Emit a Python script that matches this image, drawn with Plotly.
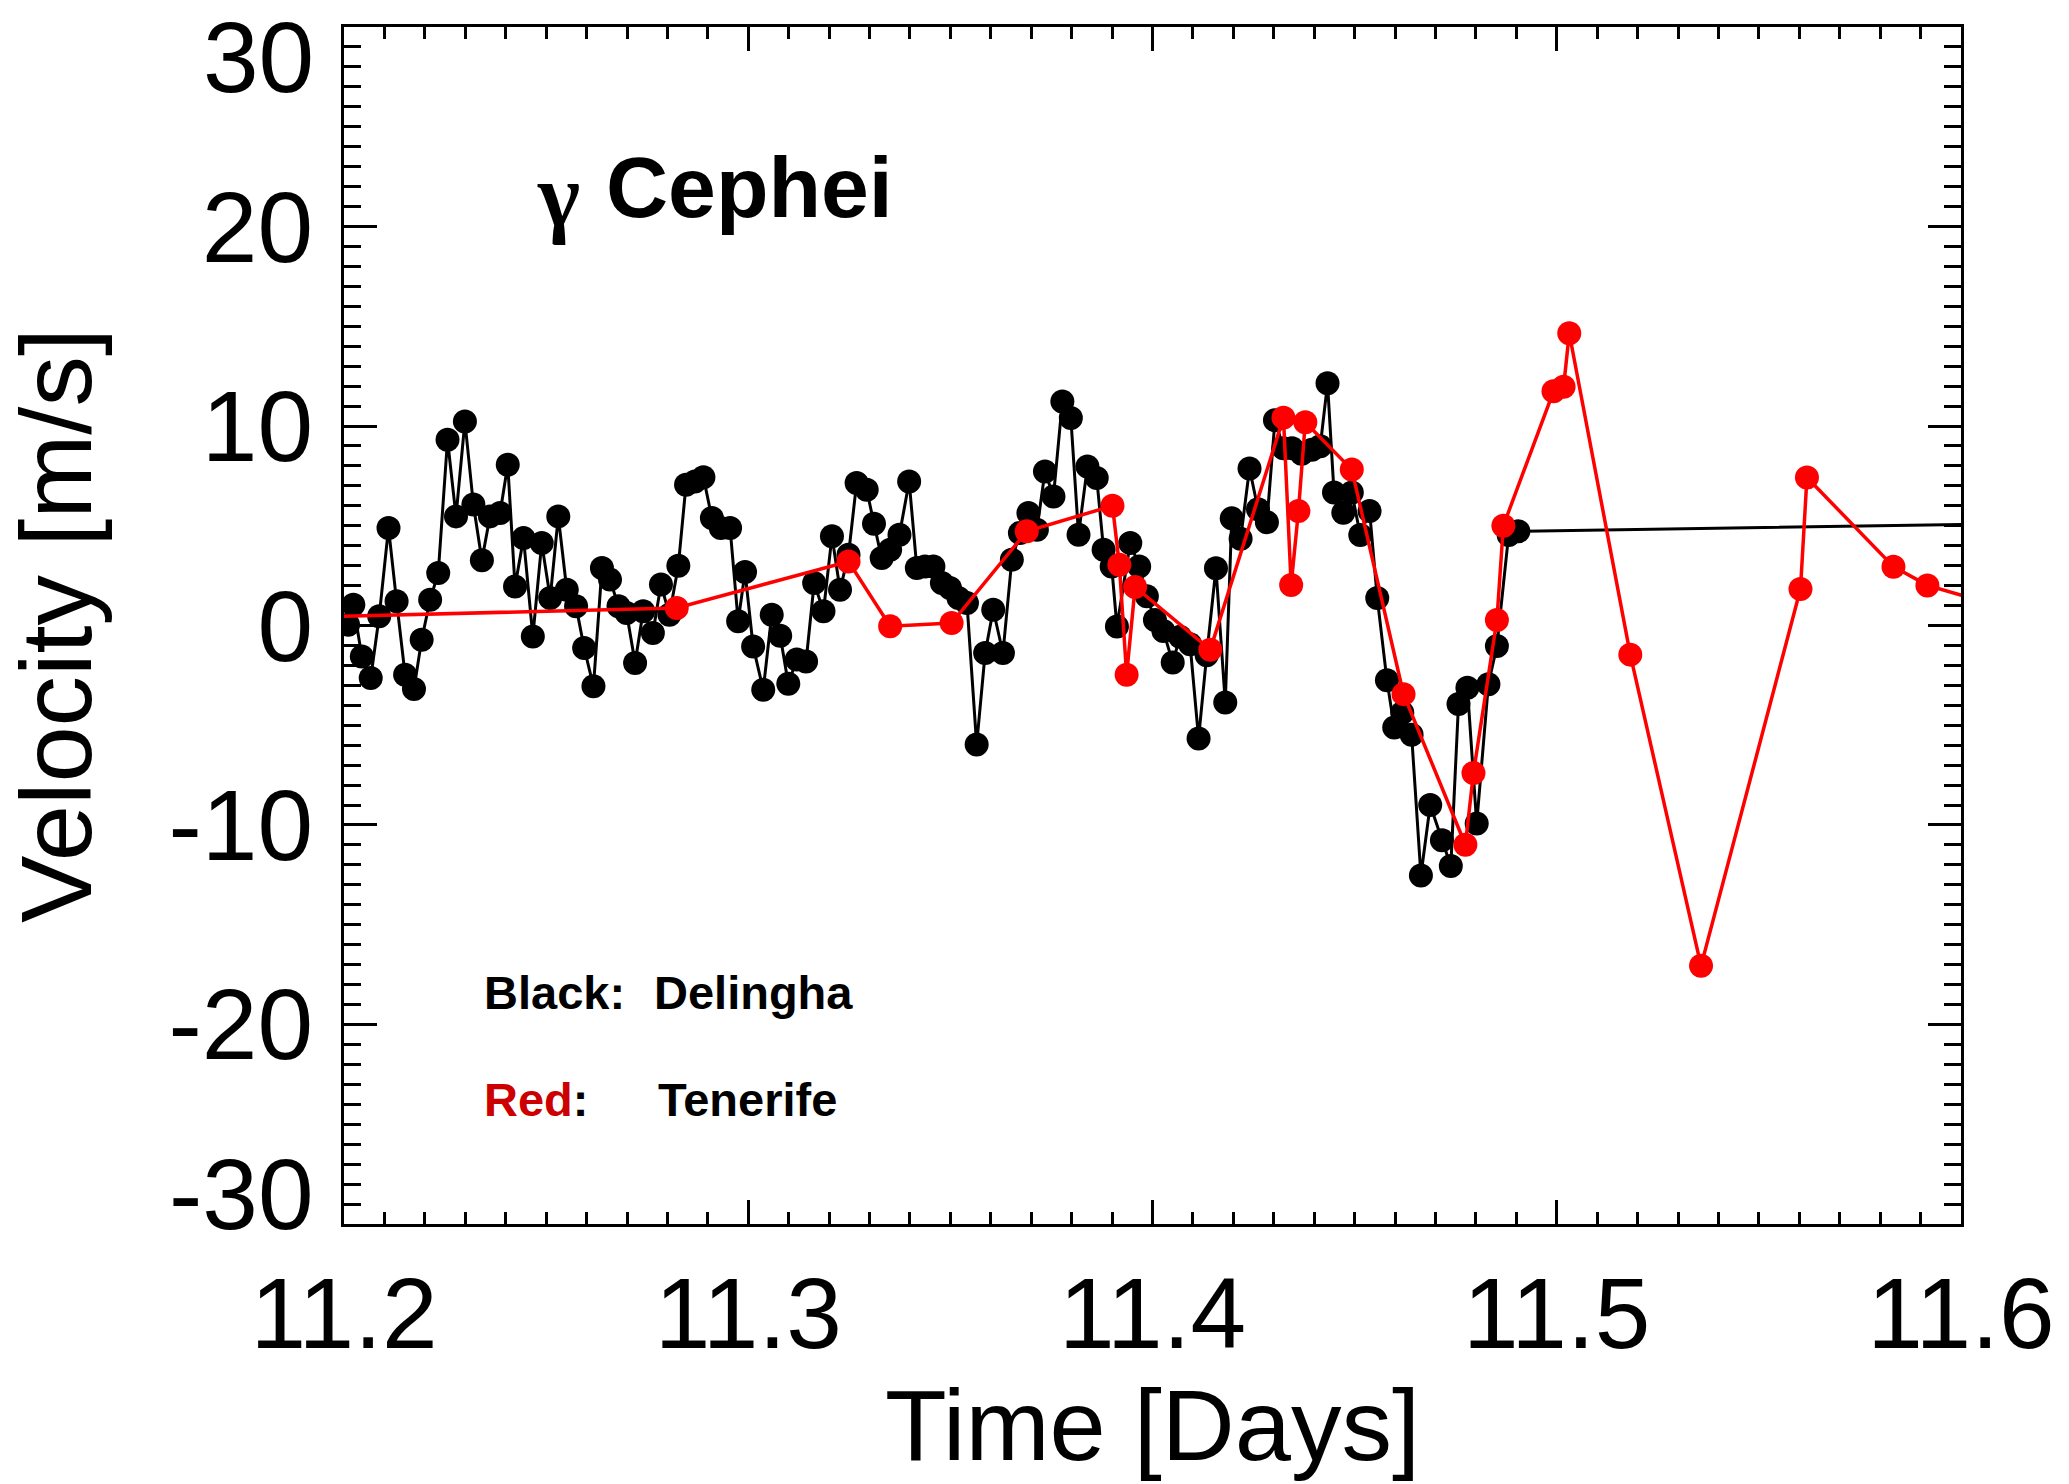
import plotly.graph_objects as go

# ---------------- data ----------------
delingha_t = [
    11.2010, 11.2023, 11.2044, 11.2066, 11.2087, 11.2110, 11.2130, 11.2151, 11.2173, 11.2192,
    11.2213, 11.2233, 11.2256, 11.2277, 11.2299, 11.2320, 11.2341, 11.2361, 11.2386, 11.2405,
    11.2423, 11.2444, 11.2467, 11.2489, 11.2510, 11.2530, 11.2551, 11.2574, 11.2594, 11.2617,
    11.2638, 11.2658, 11.2679, 11.2699, 11.2720, 11.2740, 11.2764, 11.2784, 11.2805, 11.2827,
    11.2846, 11.2868, 11.2889, 11.2910, 11.2932, 11.2955, 11.2975, 11.2992, 11.3012, 11.3037,
    11.3058, 11.3079, 11.3099, 11.3120, 11.3143, 11.3163, 11.3186, 11.3207, 11.3227, 11.3248,
    11.3268, 11.3293, 11.3311, 11.3330, 11.3351, 11.3374, 11.3398, 11.3417, 11.3437, 11.3458,
    11.3479, 11.3499, 11.3520, 11.3541, 11.3565, 11.3586, 11.3606, 11.3630, 11.3652, 11.3672,
    11.3693, 11.3714, 11.3734, 11.3755, 11.3777, 11.3798, 11.3817, 11.3839, 11.3862, 11.3879,
    11.3899, 11.3912, 11.3945, 11.3967, 11.3986, 11.4006, 11.4027, 11.4050, 11.4068, 11.4093,
    11.4114, 11.4134, 11.4157, 11.4180, 11.4196, 11.4218, 11.4240, 11.4261, 11.4283, 11.4303,
    11.4324, 11.4345, 11.4369, 11.4394, 11.4415, 11.4433, 11.4449, 11.4472, 11.4493, 11.4514,
    11.4537, 11.4556, 11.4580, 11.4598, 11.4618, 11.4641, 11.4664, 11.4687, 11.4716, 11.4738,
    11.4757, 11.4779, 11.4802, 11.4831, 11.4852, 11.4881, 11.4905, 11.6200,
]
delingha_v = [
    0.04, 1.04, -1.55, -2.63, 0.46, 4.89, 1.21, -2.47, -3.18, -0.71,
    1.29, 2.63, 9.31, 5.47, 10.23, 6.06, 3.27, 5.47, 5.64, 8.06,
    1.96, 4.38, -0.55, 4.13, 1.38, 5.47, 1.79, 0.96, -1.13, -3.05,
    2.88, 2.30, 0.96, 0.63, -1.88, 0.71, -0.38, 2.05, 0.54, 3.00,
    7.06, 7.22, 7.43, 5.39, 4.89, 4.89, 0.21, 2.68, -1.05, -3.22,
    0.54, -0.51, -2.92, -1.71, -1.80, 2.13, 0.71, 4.47, 1.79, 3.55,
    7.14, 6.81, 5.10, 3.38, 3.80, 4.55, 7.22, 2.88, 2.96, 2.96,
    2.13, 1.88, 1.38, 1.13, -5.97, -1.38, 0.79, -1.38, 3.30, 4.64,
    5.64, 4.80, 7.72, 6.47, 11.23, 10.40, 4.55, 7.97, 7.39, 3.80,
    2.96, -0.05, 4.14, 2.96, 1.47, 0.27, -0.28, -1.86, -0.56, -0.94,
    -5.66, -1.49, 2.87, -3.86, 5.37, 4.35, 7.87, 5.83, 5.18, 10.29,
    8.89, 8.89, 8.61, 8.81, 8.99, 12.14, 6.67, 5.65, 6.67, 4.54,
    5.74, 1.38, -2.75, -5.11, -4.37, -5.48, -12.53, -9.00, -10.76, -12.06,
    -3.94, -3.12, -9.93, -2.94, -1.03, 4.54, 4.72, 5.13,
]

tenerife_t = [
    11.1800, 11.2823, 11.3248, 11.3351, 11.3503, 11.3689, 11.3901, 11.3918, 11.3936, 11.3957,
    11.4143, 11.4324, 11.4343, 11.4361, 11.4378, 11.4493, 11.4621, 11.4774, 11.4794, 11.4852,
    11.4868, 11.4992, 11.5017, 11.5031, 11.5182, 11.5357, 11.5603, 11.5619, 11.5833, 11.5917,
    11.6050,
]
tenerife_v = [
    0.36, 0.88, 3.21, -0.04, 0.12, 4.72, 6.00, 3.05, -2.47, 1.93,
    -1.21, 10.42, 2.03, 5.74, 10.19, 7.82, -3.44, -10.99, -7.39, 0.27,
    5.00, 11.74, 11.97, 14.65, -1.46, -17.06, 1.83, 7.42, 2.95, 2.01,
    1.23,
]

x_tickvals = [11.2, 11.3, 11.4, 11.5, 11.6]
x_ticktext = ["11.2", "11.3", "11.4", "11.5", "11.6"]
y_tickvals = [-30, -20, -10, 0, 10, 20, 30]
y_ticktext = ["-30", "-20", "-10", "0", "10", "20", "30"]

# ---------------- figure ----------------
FONT = "Liberation Sans"
TICK_FONT = dict(family=FONT, size=100, color="black")

fig = go.Figure()
fig.add_trace(go.Scatter(
    x=delingha_t, y=delingha_v, mode="lines+markers", name="Delingha",
    line=dict(color="black", width=3),
    marker=dict(color="black", size=24),
))
fig.add_trace(go.Scatter(
    x=tenerife_t, y=tenerife_v, mode="lines+markers", name="Tenerife",
    line=dict(color="#ff0000", width=3.5),
    marker=dict(color="#ff0000", size=24),
))

axis_common = dict(
    showline=True, linecolor="black", linewidth=3, mirror="ticks",
    ticks="inside", tickcolor="black", tickwidth=2.5,
    showgrid=False, zeroline=False, automargin=False,
)

# end labels of the y axis are kept inside the page (as in the original), so
# they are drawn as shifted labels; the inner labels come from the axis itself
y_axis_text = [t if abs(v) < 30 else "" for v, t in zip(y_tickvals, y_ticktext)]

fig.update_xaxes(
    range=[11.19999, 11.60001], tickmode="array", tickvals=x_tickvals, ticktext=x_ticktext,
    ticklen=24, tickfont=TICK_FONT,
    ticklabelstandoff=1,
    minor=dict(dtick=0.01, tick0=11.2, ticks="inside", ticklen=12,
               tickwidth=2.5, tickcolor="black"),
    title=dict(text="Time [Days]", font=dict(family=FONT, size=101, color="black"),
               standoff=16),
    **axis_common,
)
fig.update_yaxes(
    range=[-30.001, 30.001], tickmode="array", tickvals=y_tickvals, ticktext=y_axis_text,
    ticklen=33, tickfont=TICK_FONT,
    ticklabelstandoff=8,
    minor=dict(dtick=1, tick0=0, ticks="inside", ticklen=17,
               tickwidth=2.5, tickcolor="black"),
    title=dict(text="Velocity [m/s]", font=dict(family=FONT, size=101, color="black"),
               standoff=50),
    **axis_common,
)

end_labels = []
for v, t in zip(y_tickvals, y_ticktext):
    if abs(v) >= 30:
        end_labels.append(dict(
            text=t, xref="paper", yref="y", x=-0.0175, y=v,
            xanchor="right", yanchor="middle", yshift=-30 if v > 0 else 30,
            showarrow=False, font=TICK_FONT,
        ))

ann_font = dict(family=FONT, size=47, color="black", weight="bold")
fig.update_layout(
    width=2069, height=1484,
    margin=dict(l=344, r=108, t=27, b=260),
    paper_bgcolor="white", plot_bgcolor="white",
    showlegend=False,
    annotations=end_labels + [
        dict(text="γ", xref="paper", yref="paper", x=0.118, y=0.859,
             xanchor="left", yanchor="middle", showarrow=False,
             font=dict(family="Liberation Serif", size=90, color="black", weight="bold")),
        dict(text="Cephei", xref="paper", yref="paper", x=0.161, y=0.866,
             xanchor="left", yanchor="middle", showarrow=False,
             font=dict(family=FONT, size=86, color="black", weight="bold")),
        dict(text="Black:", xref="paper", yref="paper", x=0.0853, y=0.1938,
             xanchor="left", yanchor="middle", showarrow=False, font=ann_font),
        dict(text="Delingha", xref="paper", yref="paper", x=0.1905, y=0.1938,
             xanchor="left", yanchor="middle", showarrow=False, font=ann_font),
        dict(text="<span style=\"color:#cc0000\">Red</span>:", xref="paper", yref="paper",
             x=0.0853, y=0.1044, xanchor="left", yanchor="middle", showarrow=False,
             font=ann_font),
        dict(text="Tenerife", xref="paper", yref="paper", x=0.193, y=0.1044,
             xanchor="left", yanchor="middle", showarrow=False, font=ann_font),
    ],
)

fig.write_html("out.html")
